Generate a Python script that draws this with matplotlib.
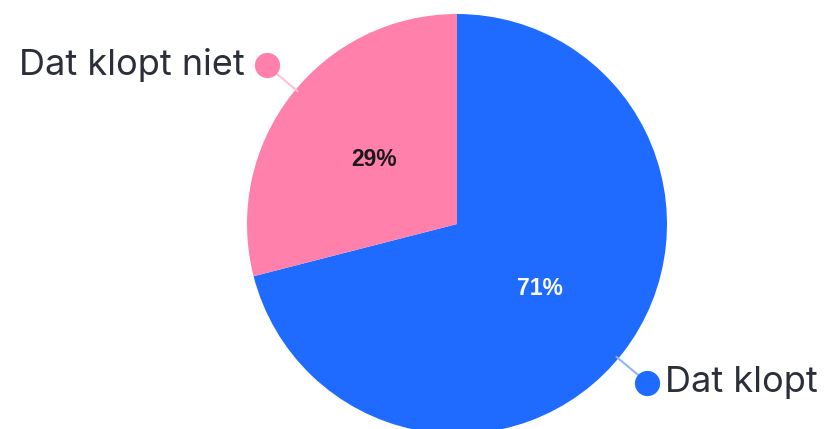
import numpy as np
import matplotlib
matplotlib.use("Agg")
import matplotlib.pyplot as plt

# data
labels = ["Dat klopt", "Dat klopt niet"]
values = [71, 29]
colors = ["#1f6bff", "#ff80ab"]
line_colors = ["#8fb4ff", "#ffbfd5"]
pct_colors = ["white", "#1a1a1a"]

W, H = 828, 429
fig = plt.figure(figsize=(W / 100, H / 100), dpi=100)
ax = fig.add_axes([0, 0, 1, 1])

cx, cy, r = 457, 205, 210

wedges, _ = ax.pie(values, colors=colors, startangle=90, counterclock=False,
                   center=(cx, cy), radius=r, frame=True,
                   wedgeprops=dict(linewidth=0))
ax.set_xlim(0, W)
ax.set_ylim(0, H)
ax.set_aspect("equal")
ax.axis("off")

for w, lab, val, lc, pc, col in zip(wedges, labels, values, line_colors, pct_colors, colors):
    mid = np.deg2rad((w.theta1 + w.theta2) / 2)
    c, s = np.cos(mid), np.sin(mid)
    # percentage inside
    ax.text(cx + 0.5 * r * c, cy + 0.5 * r * s, f"{val}%", ha="center", va="center",
            fontsize=16.5, fontweight="bold", color=pc, family="Liberation Sans")
    # leader line + dot (slightly rotated like the original)
    m2 = mid - np.deg2rad(2)
    c2, s2 = np.cos(m2), np.sin(m2)
    x0, y0 = cx + 0.99 * r * c2, cy + 0.99 * r * s2
    x1, y1 = cx + 1.18 * r * c2, cy + 1.18 * r * s2
    ax.plot([x0, x1], [y0, y1], color=lc, lw=1.5, zorder=3)
    ax.scatter([x1], [y1], s=330, color=col, zorder=4, linewidths=0)
    if c >= 0:
        ax.text(x1 + 18, y1, lab, ha="left", va="center", fontsize=26,
                color="#2b2f3a", family="Inter")
    else:
        ax.text(x1 - 22, y1, lab, ha="right", va="center", fontsize=26,
                color="#2b2f3a", family="Inter")

fig.savefig("out.png", dpi=100)
